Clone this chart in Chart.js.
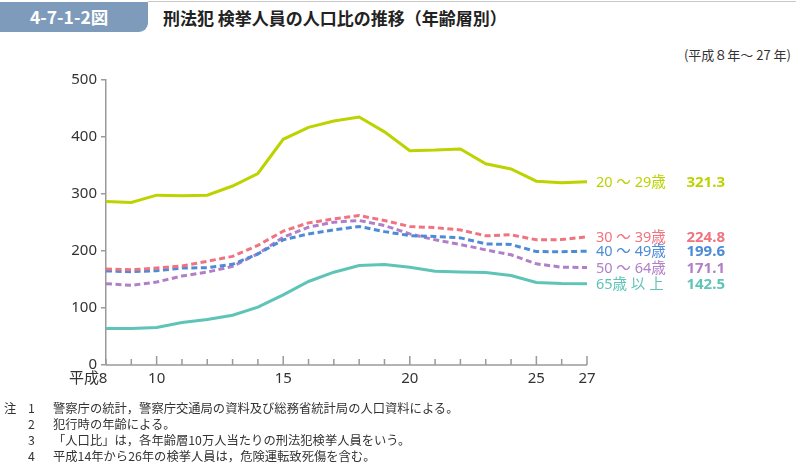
<!DOCTYPE html>
<html lang="ja">
<head>
<meta charset="utf-8">
<script src="https://cdn.jsdelivr.net/npm/chart.js@4.4.1/dist/chart.umd.min.js"></script>
<style>
  html, body { margin: 0; padding: 0; background: #fff; }
  #wrap { position: relative; width: 796px; height: 465px; overflow: hidden; font-family: "Noto Sans CJK JP", "Noto Sans", sans-serif; color: #333; }
  #tab { position: absolute; left: 0; top: 2px; width: 148px; height: 30px; background: #7e9bbb; border-bottom-right-radius: 9px; color: #fff; font-weight: bold; font-size: 17.5px; line-height: 30px; text-indent: 30px; }
  #topline { position: absolute; left: 148px; top: 1px; right: 0; height: 1px; background: #c8c8c8; }
  #title { position: absolute; left: 163px; top: 6px; font-size: 17px; font-weight: bold; color: #222; line-height: 24px; }
  #period { position: absolute; right: 5px; top: 45px; font-size: 13px; color: #333; }
  #chart { position: absolute; left: 0; top: 0; }
  .note { position: absolute; font-size: 12.3px; line-height: 16px; color: #333; white-space: nowrap; }
</style>
</head>
<body>
<div id="wrap">
  <div id="tab">4-7-1-2図</div>
  <div id="topline"></div>
  <div id="title">刑法犯 検挙人員の人口比の推移（年齢層別）</div>
  <div id="period">(平成８年～ 27 年)</div>
  <canvas id="chart" width="796" height="465"></canvas>
  <div class="note" style="left:4px;top:400px">注</div>
  <div class="note" style="left:28px;top:400px">1</div>
  <div class="note" style="left:53px;top:400px">警察庁の統計，警察庁交通局の資料及び総務省統計局の人口資料による。</div>
  <div class="note" style="left:28px;top:416px">2</div>
  <div class="note" style="left:53px;top:416px">犯行時の年齢による。</div>
  <div class="note" style="left:28px;top:432px">3</div>
  <div class="note" style="left:53px;top:432px">「人口比」は，各年齢層10万人当たりの刑法犯検挙人員をいう。</div>
  <div class="note" style="left:28px;top:448px">4</div>
  <div class="note" style="left:53px;top:448px">平成14年から26年の検挙人員は，危険運転致死傷を含む。</div>
</div>
<script>
const years = [8, 9, 10, 11, 12, 13, 14, 15, 16, 17, 18, 19, 20, 21, 22, 23, 24, 25, 26, 27];
const xTickLabels = { 8: '8', 10: '10', 15: '15', 20: '20', 25: '25', 27: '27' };
const yTicks = [0, 100, 200, 300, 400, 500];

const age20to29 = [287, 285, 298, 297, 298, 314, 336, 396, 417, 428, 435, 409, 376, 377, 379, 353, 344, 322.5, 319.6, 321.3];
const age30to39 = [168.4, 167, 170, 173.7, 182, 190.6, 210, 234.8, 249.4, 256.4, 262.3, 253.5, 243, 241, 237, 226.6, 228.4, 219.6, 220, 224.8];
const age40to49 = [165, 163.7, 165.5, 170, 170.8, 176.6, 195, 219.6, 230, 237, 243, 234, 227, 225.4, 223, 212.5, 211.4, 199, 198.8, 199.6];
const age50to64 = [142.7, 139.8, 145.6, 156, 163, 173, 195, 224, 241.8, 250.6, 253.5, 244.7, 230, 219.6, 211.4, 202, 193.3, 177.5, 171.6, 171.1];
const age65plus = [64, 64, 65.8, 74.6, 79.8, 87.4, 101.4, 123, 146.5, 162.8, 174.6, 176.3, 171.6, 164.6, 163, 162.3, 157, 144.7, 143, 142.5];

const seriesNames = ['20 ～ 29歳', '30 ～ 39歳', '40 ～ 49歳', '50 ～ 64歳', '65歳 以 上'];
const seriesColors = ['#bcd300', '#f0737f', '#4d8bd7', '#b17fc8', '#5ec4b7'];

const AXIS_COLOR = '#9a9a9a';
const LABEL_FONT = '"Noto Sans", "Noto Sans CJK JP", sans-serif';

const makeSet = (label, data, color, dashed) => ({
  label,
  data,
  borderColor: color,
  backgroundColor: color,
  borderWidth: 3,
  borderDash: dashed ? [6, 3.5] : [],
  pointRadius: 0,
  tension: 0,
  fill: false
});

// x axis drawn by hand: ticks point up into the plot, "平成" sits left of the 8
const xAxisPlugin = {
  id: 'xAxisPlugin',
  afterDraw(chart) {
    const { ctx, chartArea, scales } = chart;
    const x = scales.x;
    const y0 = scales.y.getPixelForValue(0);
    ctx.save();
    ctx.strokeStyle = AXIS_COLOR;
    ctx.lineWidth = 1.5;
    ctx.beginPath();
    ctx.moveTo(chartArea.left, y0);
    ctx.lineTo(chartArea.right, y0);
    years.forEach((yr, i) => {
      const px = x.getPixelForValue(i);
      const len = xTickLabels[yr] && yr !== 8 ? 9 : 6;
      ctx.moveTo(px, y0);
      ctx.lineTo(px, y0 - len);
    });
    ctx.stroke();

    ctx.fillStyle = '#333';
    ctx.font = '15px ' + LABEL_FONT;
    ctx.textBaseline = 'middle';
    ctx.textAlign = 'center';
    years.forEach((yr, i) => {
      if (!xTickLabels[yr]) return;
      const px = x.getPixelForValue(i);
      ctx.fillText(xTickLabels[yr], px - (yr === 8 ? 3 : 0), y0 + 14);
    });
    ctx.textAlign = 'right';
    ctx.fillText('平成', x.getPixelForValue(0) - 7, y0 + 14);
    ctx.restore();
  }
};

// series names and last values at the right end of each line
const endLabelPlugin = {
  id: 'endLabelPlugin',
  afterDraw(chart) {
    const { ctx, chartArea, scales } = chart;
    ctx.save();
    ctx.textBaseline = 'middle';
    chart.data.datasets.forEach((ds, i) => {
      const last = ds.data[ds.data.length - 1];
      const py = scales.y.getPixelForValue(last) + 1;
      ctx.fillStyle = seriesColors[i];
      ctx.font = '14.5px ' + LABEL_FONT;
      ctx.textAlign = 'left';
      ctx.fillText(seriesNames[i], chartArea.right + 9, py);
      ctx.font = 'bold 15px ' + LABEL_FONT;
      ctx.textAlign = 'right';
      ctx.fillText(last.toFixed(1), 725, py);
    });
    ctx.restore();
  }
};

const ctx = document.getElementById('chart').getContext('2d');
const chart = new Chart(ctx, {
  type: 'line',
  data: {
    labels: years.map(String),
    datasets: [
      makeSet(seriesNames[0], age20to29, seriesColors[0], false),
      makeSet(seriesNames[1], age30to39, seriesColors[1], true),
      makeSet(seriesNames[2], age40to49, seriesColors[2], true),
      makeSet(seriesNames[3], age50to64, seriesColors[3], true),
      makeSet(seriesNames[4], age65plus, seriesColors[4], false)
    ]
  },
  options: {
    responsive: false,
    animation: false,
    layout: { padding: { left: 0, right: 209, top: 80, bottom: 100 } },
    plugins: {
      legend: { display: false },
      tooltip: { enabled: false }
    },
    scales: {
      x: { display: false },
      y: {
        min: 0,
        max: 500,
        afterBuildTicks: scale => { scale.ticks = yTicks.map(v => ({ value: v })); },
        afterFit: scale => { scale.width = 106; },
        border: { color: AXIS_COLOR, width: 1.5 },
        grid: { drawOnChartArea: false, color: AXIS_COLOR, tickLength: 5, lineWidth: 1.5 },
        ticks: { color: '#333', font: { size: 15, family: LABEL_FONT }, padding: 4 }
      }
    }
  },
  plugins: [xAxisPlugin, endLabelPlugin]
});
</script>
</body>
</html>
